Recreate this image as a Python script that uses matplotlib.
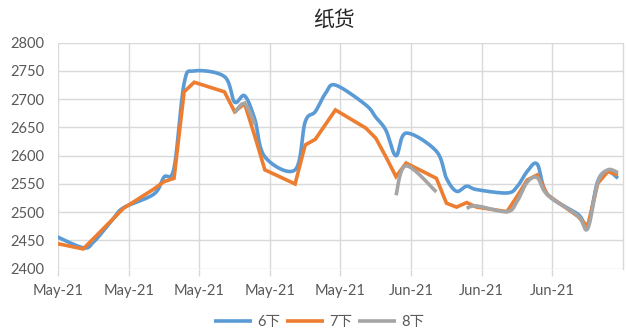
import numpy as np
import pandas as pd
import matplotlib
matplotlib.use("Agg")
import matplotlib.pyplot as plt
import matplotlib.dates as mdates

dates = ["2021-04-30", "2021-05-03", "2021-05-04", "2021-05-05", "2021-05-06", "2021-05-07",
         "2021-05-10", "2021-05-11", "2021-05-12", "2021-05-13", "2021-05-14",
         "2021-05-17", "2021-05-18", "2021-05-19", "2021-05-20", "2021-05-21",
         "2021-05-24", "2021-05-25", "2021-05-26", "2021-05-27", "2021-05-28",
         "2021-05-31", "2021-06-01", "2021-06-02", "2021-06-03", "2021-06-04",
         "2021-06-07", "2021-06-08", "2021-06-09", "2021-06-10", "2021-06-11",
         "2021-06-14", "2021-06-15", "2021-06-16", "2021-06-17", "2021-06-18",
         "2021-06-21", "2021-06-22", "2021-06-23", "2021-06-24", "2021-06-25"]

jun6 = [2460, 2437, 2447, 2467, 2489, 2508,
        2532, 2562, 2578, 2728, 2750,
        2740, 2695, 2706, 2665, 2598,
        2575, 2660, 2678, 2710, 2725,
        2690, 2668, 2645, 2600, 2640,
        2608, 2560, 2537, 2546, 2540,
        2534, 2545, 2572, 2585, 2532,
        2497, 2478, 2555, 2572, 2560]

jul7 = [2446, 2435, 2453, 2471, 2489, 2507,
        2541, 2554, 2560, 2713, 2730,
        2713, 2678, 2692, 2635, 2575,
        2550, 2619, 2629, 2655, 2681,
        2649, 2631, 2598, 2563, 2587,
        2560, 2516, 2509, 2517, 2509,
        2501, 2528, 2557, 2566, 2531,
        2493, 2475, 2551, 2572, 2566]

aug8 = [None, None, None, None, None, None,
        None, None, None, None, None,
        None, 2676, 2692, 2656, None,
        None, None, None, None, None,
        None, None, None, 2530, 2582,
        2536, None, None, 2507, 2511,
        2501, 2519, 2553, 2561, 2531,
        2494, 2471, 2553, 2575, 2570]

series_names = ["6下", "7下", "8下"]
colors = ["#5B9BD5", "#ED7D31", "#A5A5A5"]
smoothed = [True, False, True]

cjk = ["Lato", "Noto Sans CJK SC"]


def smooth_curve(x, y, n=24):
    # excel-like smoothing: catmull-rom as cubic bezier
    xs, ys = [], []
    m = len(x)
    for i in range(m - 1):
        p0 = np.array([x[max(i - 1, 0)], y[max(i - 1, 0)]])
        p1 = np.array([x[i], y[i]])
        p2 = np.array([x[i + 1], y[i + 1]])
        p3 = np.array([x[min(i + 2, m - 1)], y[min(i + 2, m - 1)]])
        c1 = p1 + (p2 - p0) / 6
        c2 = p2 - (p3 - p1) / 6
        t = np.linspace(0, 1, n)[:, None]
        pts = ((1 - t) ** 3) * p1 + 3 * ((1 - t) ** 2) * t * c1 + 3 * (1 - t) * t ** 2 * c2 + t ** 3 * p2
        xs.extend(pts[:, 0])
        ys.extend(pts[:, 1])
    return np.array(xs), np.array(ys)


# points sit mid-day (excel "between tick marks")
xd = mdates.date2num(pd.to_datetime(dates)) + 0.5

fig = plt.figure(figsize=(6.26, 3.35), dpi=100)
ax = fig.add_axes([58 / 626, 1 - 268.7 / 335, 565 / 626, 226 / 335])

for name, vals, c, sm in zip(series_names, [jun6, jul7, aug8], colors, smoothed):
    v = np.array([np.nan if a is None else a for a in vals], dtype=float)
    ok = ~np.isnan(v)
    # split into runs without gaps
    runs = []
    cur = []
    for i in range(len(v)):
        if ok[i]:
            cur.append(i)
        elif cur:
            runs.append(cur)
            cur = []
    if cur:
        runs.append(cur)
    first = True
    for r in runs:
        if sm:
            sx, sy = smooth_curve(xd[r], v[r])
        else:
            sx, sy = xd[r], v[r]
        ax.plot(sx, sy, color=c, lw=2.6, solid_capstyle="butt", solid_joinstyle="miter",
                label=name if first else None)
        first = False

start = mdates.date2num(pd.Timestamp("2021-05-01"))
end = mdates.date2num(pd.Timestamp("2021-06-26"))
ax.set_xlim(start, end)
ax.set_ylim(2400, 2800)
ax.set_yticks(np.arange(2400, 2801, 50))

ticks = np.arange(start, end - 1, 7)
ax.set_xticks(ticks)
ax.xaxis.set_major_formatter(mdates.DateFormatter("%b-%y"))

ax.grid(True, color="#D9D9D9", lw=1)
ax.set_axisbelow(True)
for s in ["top", "left", "bottom"]:
    ax.spines[s].set_visible(False)
ax.spines["right"].set_color("#D9D9D9")
ax.spines["right"].set_linewidth(1)

ax.tick_params(axis="y", length=0, pad=10, labelsize=10.5, labelcolor="#595959")
ax.tick_params(axis="x", length=5, color="#D9D9D9", width=1, pad=6, labelsize=10.5, labelcolor="#595959")
for lab in ax.get_xticklabels() + ax.get_yticklabels():
    lab.set_family(cjk)

fig.text(0.534, 1 - 20 / 335, "纸货", ha="center", va="center", fontsize=15,
         family=["Noto Sans CJK SC"], color="#262626")

leg = fig.legend(loc="center", bbox_to_anchor=(0.51, 1 - 322 / 335), ncol=3, frameon=False,
                 handlelength=2.6, handletextpad=0.35, columnspacing=0.4,
                 prop={"family": cjk, "size": 10.5})
for t in leg.get_texts():
    t.set_color("#595959")

fig.savefig("out.png", dpi=100)
